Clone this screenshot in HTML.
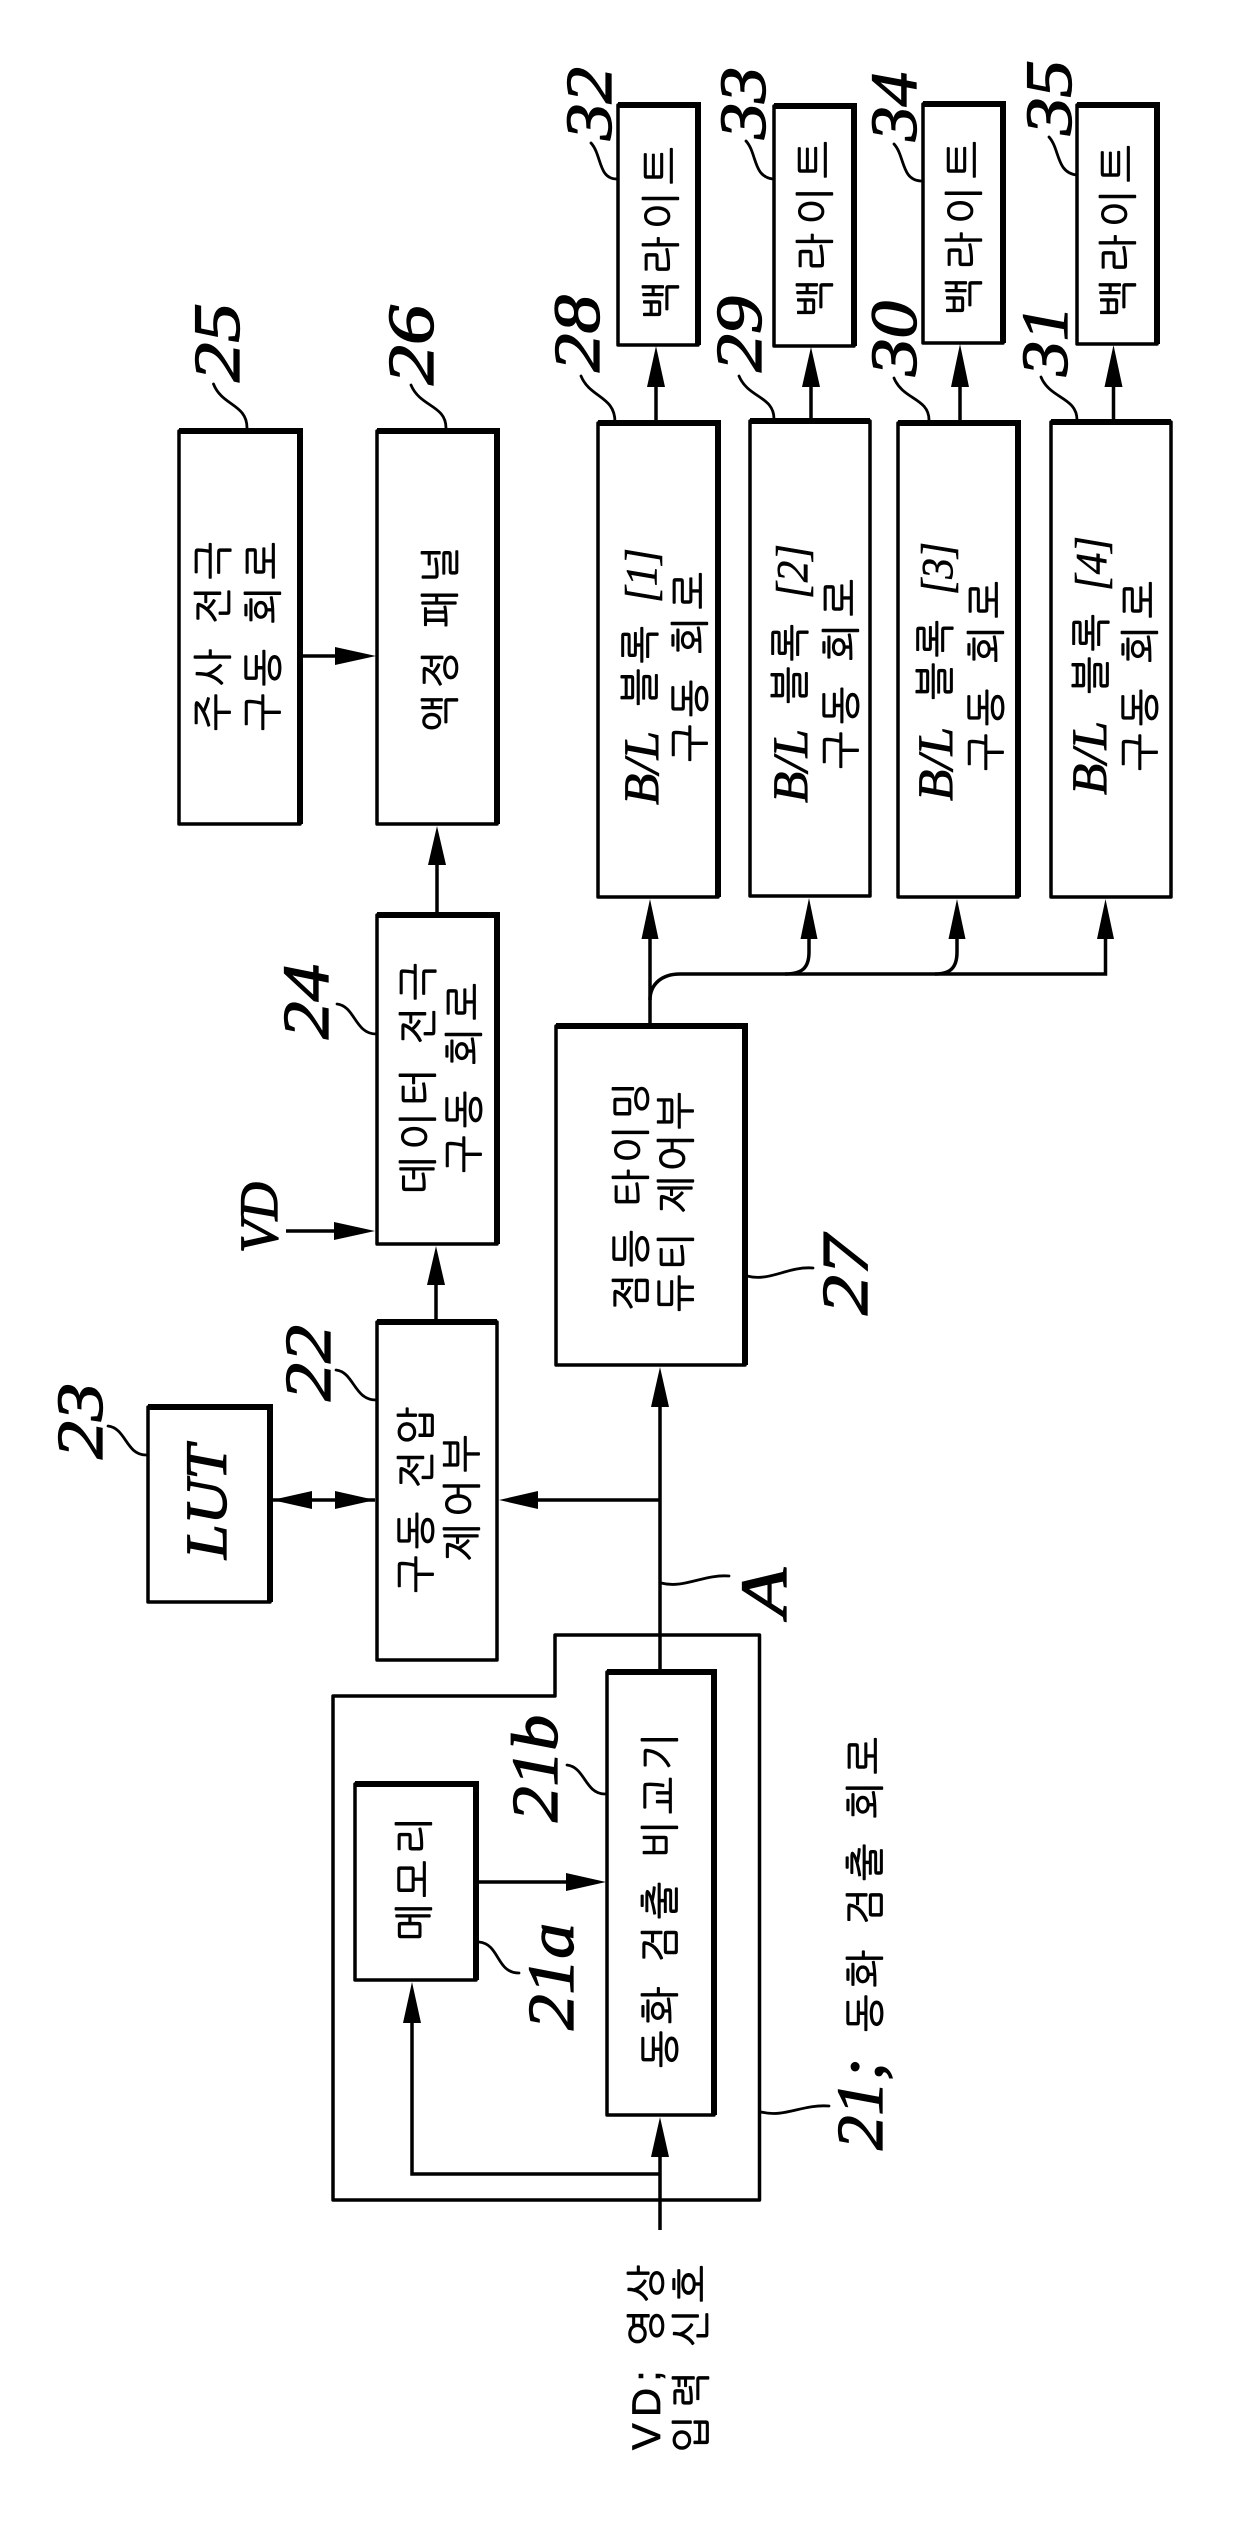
<!DOCTYPE html>
<html lang="ko">
<head>
<meta charset="utf-8">
<title>Diagram</title>
<style>
html,body{margin:0;padding:0;background:#fff}
svg{display:block}
.b{fill:none;stroke:#000;stroke-width:3.5;stroke-linejoin:round}
.h{fill:none;stroke:#000;stroke-width:6}
.l{fill:none;stroke:#000;stroke-width:3.5}
.t{fill:none;stroke:#000;stroke-width:2.8;stroke-linecap:round}
polygon{fill:#000;stroke:none}
text{fill:#000}
.n{font:italic 66px "Liberation Serif",serif;stroke:#000;stroke-width:1.3}
.i{font:italic 50px "Liberation Serif",serif;stroke:#000;stroke-width:.8}
.br{font:italic 44px "Liberation Serif",serif;stroke:#000;stroke-width:.6}
.k{font:40px "Liberation Sans","NanumGothic","Noto Sans CJK KR",sans-serif;stroke:#000;stroke-width:.7}
</style>
</head>
<body>
<svg xmlns="http://www.w3.org/2000/svg" width="1240" height="2522" viewBox="0 0 1240 2522">
<rect width="1240" height="2522" fill="#fff"/>

<!-- outer box 21 -->
<path class="b" d="M333 1696H555V1635H759.500V2200H333Z"/>

<!-- boxes -->
<rect class="b" x="179" y="431" width="121" height="393"/><path class="h" d="M179 431H300V824"/>
<rect class="b" x="377" y="431" width="120" height="393"/><path class="h" d="M377 431H497V824"/>
<rect class="b" x="377" y="915" width="120" height="329"/><path class="h" d="M377 915H497V1244"/>
<rect class="b" x="377" y="1322" width="120" height="338"/>
<path class="h" d="M377 1322H497"/>
<rect class="b" x="148" y="1407" width="122" height="195"/><path class="h" d="M148 1407H270V1602"/>
<rect class="b" x="556" y="1026" width="189" height="339"/><path class="h" d="M556 1026H745V1365"/>
<rect class="b" x="607" y="1672" width="107" height="443"/><path class="h" d="M607 1672H714V2115"/>
<rect class="b" x="355" y="1784" width="121" height="196"/><path class="h" d="M355 1784H476V1980"/>

<rect class="b" x="598" y="423" width="120" height="474"/><path class="h" d="M598 423H718V897"/>
<rect class="b" x="750" y="421" width="120" height="475"/><path class="h" d="M750 421H870"/>
<rect class="b" x="898" y="423" width="120" height="474"/><path class="h" d="M898 423H1018V897"/>
<rect class="b" x="1051" y="422" width="120" height="475"/><path class="h" d="M1051 422H1171"/>

<rect class="b" x="618" y="105" width="80" height="240"/><path class="h" d="M618 105H698V345"/>
<rect class="b" x="774" y="106" width="80" height="240"/><path class="h" d="M774 106H854V346"/>
<rect class="b" x="923" y="104" width="80" height="239"/><path class="h" d="M923 104H1003V343"/>
<rect class="b" x="1077" y="105" width="80" height="239"/><path class="h" d="M1077 105H1157V344"/>

<!-- connectors -->
<path class="l" d="M656 423V380M811 421V380M960 423V380M1113.500 422V380"/>
<polygon points="656,346 647,387 665,387"/>
<polygon points="811,347 802,387 820,387"/>
<polygon points="960,344 951,387 969,387"/>
<polygon points="1113.500,345 1104.500,387 1122.500,387"/>

<path class="l" d="M302 656H340"/><polygon points="376,656 335,647 335,665"/>
<path class="l" d="M437 915V860"/><polygon points="437,826 428,865 446,865"/>
<path class="l" d="M286 1231H340"/><polygon points="375,1231 334,1222 334,1240"/>
<path class="l" d="M436 1322V1280"/><polygon points="436,1246 427,1285 445,1285"/>

<path class="l" d="M272 1500H375"/>
<polygon points="272,1500 312,1491 312,1509"/>
<polygon points="375,1500 335,1491 335,1509"/>
<path class="l" d="M660 1500H530"/><polygon points="499,1500 538,1491 538,1509"/>

<path class="l" d="M660 1672V1400"/><polygon points="660,1367 651,1407 669,1407"/>
<path class="l" d="M660 2230V2150"/><polygon points="660,2117 651,2157 669,2157"/>
<path class="l" d="M660 2174H412V2015"/><polygon points="412,1982 403,2023 421,2023"/>
<path class="l" d="M476 1882H575"/><polygon points="606,1882 566,1873 566,1891"/>

<!-- bus -->
<path class="l" d="M650 1026V932"/><polygon points="650,899 641.500,939 658.500,939"/>
<path class="l" d="M650 1000C650 984 662 974 680 974H1105.500V932"/><polygon points="1105.500,899 1097,939 1114,939"/>
<path class="l" d="M785 974C802 974 809 968 809 952V932"/><polygon points="809,898 800.500,939 817.500,939"/>
<path class="l" d="M935 974C950 974 957 968 957 952V932"/><polygon points="957,899 948.500,939 965.500,939"/>

<!-- leader squiggles -->
<path class="t" d="M213.500 384C222 406 247 404 247 428"/>
<path class="t" d="M411 385C420 407 446 405 446 428"/>
<path class="t" d="M581 376C590 398 615 396 615 422"/>
<path class="t" d="M739 376C748 398 774 396 774 419"/>
<path class="t" d="M894 378C903 400 929 398 929 420"/>
<path class="t" d="M1041 377C1050 399 1077 397 1077 420"/>
<path class="t" d="M591 143C602 155 598 179 617 179"/>
<path class="t" d="M746 141C757 153 753 177 773 179"/>
<path class="t" d="M894 144C905 156 901 180 921 181"/>
<path class="t" d="M1049 137C1060 149 1056 173 1077 175"/>
<path class="t" d="M337 1004C355 1006 355 1034 376 1034"/>
<path class="t" d="M336 1370C354 1372 354 1400 376 1400"/>
<path class="t" d="M108 1426C126 1428 126 1455 146 1455"/>
<path class="t" d="M567 1765C585 1767 585 1794 605 1794"/>
<path class="t" d="M479 1942C500 1944 496 1973 519 1973"/>
<path class="t" d="M761 2112C785 2118 802 2104 829 2106"/>
<path class="t" d="M747 1276C770 1282 788 1266 813 1268"/>
<path class="t" d="M661 1583C684 1589 704 1574 729 1576"/>

<!-- reference numerals -->
<text class="n" transform="translate(239,382) rotate(-90)" textLength="79" lengthAdjust="spacingAndGlyphs">25</text>
<text class="n" transform="translate(433,385) rotate(-90)" textLength="80" lengthAdjust="spacingAndGlyphs">26</text>
<text class="n" transform="translate(599,372) rotate(-90)" textLength="77" lengthAdjust="spacingAndGlyphs">28</text>
<text class="n" transform="translate(761,372) rotate(-90)" textLength="76" lengthAdjust="spacingAndGlyphs">29</text>
<text class="n" transform="translate(916,376) rotate(-90)" textLength="75" lengthAdjust="spacingAndGlyphs">30</text>
<text class="n" transform="translate(1067,376) rotate(-90)" textLength="70" lengthAdjust="spacingAndGlyphs">31</text>
<text class="n" transform="translate(611,140) rotate(-90)" textLength="73" lengthAdjust="spacingAndGlyphs">32</text>
<text class="n" transform="translate(765,139) rotate(-90)" textLength="72" lengthAdjust="spacingAndGlyphs">33</text>
<text class="n" transform="translate(916,141) rotate(-90)" textLength="69" lengthAdjust="spacingAndGlyphs">34</text>
<text class="n" transform="translate(1071,135) rotate(-90)" textLength="75" lengthAdjust="spacingAndGlyphs">35</text>
<text class="n" transform="translate(328,1039) rotate(-90)" textLength="75" lengthAdjust="spacingAndGlyphs">24</text>
<text class="n" transform="translate(330,1401) rotate(-90)" textLength="76" lengthAdjust="spacingAndGlyphs">22</text>
<text class="n" transform="translate(102,1459) rotate(-90)" textLength="76" lengthAdjust="spacingAndGlyphs">23</text>
<text class="n" transform="translate(867,1315) rotate(-90)" textLength="80" lengthAdjust="spacingAndGlyphs">27</text>
<text class="n" transform="translate(786,1617) rotate(-90)" textLength="49" lengthAdjust="spacingAndGlyphs">A</text>
<text class="n" transform="translate(557,1822) rotate(-90)" textLength="107" lengthAdjust="spacingAndGlyphs">21b</text>
<text class="n" transform="translate(573,2030) rotate(-90)" textLength="107" lengthAdjust="spacingAndGlyphs">21a</text>
<text class="n" transform="translate(882,2150) rotate(-90)" textLength="92" lengthAdjust="spacingAndGlyphs">21;</text>
<text class="n" style="font-size:54px" transform="translate(277,1253) rotate(-90)" textLength="71" lengthAdjust="spacingAndGlyphs">VD</text>
<text class="n" style="font-size:58px" transform="translate(226,1559) rotate(-90)" textLength="114" lengthAdjust="spacingAndGlyphs">LUT</text>

<!-- Korean labels -->
<text class="k" transform="translate(227,731) rotate(-90)" textLength="189">주사 전극</text>
<text class="k" transform="translate(277,731) rotate(-90)" textLength="189">구동 회로</text>
<text class="k" transform="translate(454,732) rotate(-90)" textLength="186">액정 패널</text>
<text class="k" transform="translate(432,1194) rotate(-90)" textLength="231">데이터 전극</text>
<text class="k" transform="translate(478,1173) rotate(-90)" textLength="190">구동 회로</text>
<text class="k" transform="translate(430,1593) rotate(-90)" textLength="186">구동 전압</text>
<text class="k" transform="translate(476,1561) rotate(-90)" textLength="126">제어부</text>
<text class="k" transform="translate(645,1311) rotate(-90)" textLength="229">점등 타이밍</text>
<text class="k" transform="translate(690,1312) rotate(-90)" textLength="220">듀티 제어부</text>
<text class="k" transform="translate(428,1941) rotate(-90)" textLength="124">메모리</text>
<text class="k" transform="translate(674,2068) rotate(-90)" textLength="335">동화 검출 비교기</text>
<text class="k" transform="translate(879,2032) rotate(-90)" textLength="295">동화 검출 회로</text>

<text class="k" transform="translate(675,319) rotate(-90)" textLength="172">백라이트</text>
<text class="k" transform="translate(829,317) rotate(-90)" textLength="176">백라이트</text>
<text class="k" transform="translate(978,315) rotate(-90)" textLength="174">백라이트</text>
<text class="k" transform="translate(1132,317) rotate(-90)" textLength="172">백라이트</text>

<text class="i" transform="translate(658,805) rotate(-90)" textLength="74" lengthAdjust="spacingAndGlyphs">B/L</text>
<text class="k" transform="translate(654,706) rotate(-90)" textLength="80">블록</text>
<text class="br" transform="translate(656,603) rotate(-90)" textLength="55" lengthAdjust="spacingAndGlyphs">[1]</text>
<text class="k" transform="translate(704,762) rotate(-90)" textLength="190">구동 회로</text>

<text class="i" transform="translate(807,803) rotate(-90)" textLength="74" lengthAdjust="spacingAndGlyphs">B/L</text>
<text class="k" transform="translate(804,704) rotate(-90)" textLength="80">블록</text>
<text class="br" transform="translate(807,599) rotate(-90)" textLength="55" lengthAdjust="spacingAndGlyphs">[2]</text>
<text class="k" transform="translate(855,769) rotate(-90)" textLength="190">구동 회로</text>

<text class="i" transform="translate(952,801) rotate(-90)" textLength="74" lengthAdjust="spacingAndGlyphs">B/L</text>
<text class="k" transform="translate(949,700) rotate(-90)" textLength="80">블록</text>
<text class="br" transform="translate(952,595) rotate(-90)" textLength="53" lengthAdjust="spacingAndGlyphs">[3]</text>
<text class="k" transform="translate(1000,771) rotate(-90)" textLength="190">구동 회로</text>

<text class="i" transform="translate(1106,795) rotate(-90)" textLength="74" lengthAdjust="spacingAndGlyphs">B/L</text>
<text class="k" transform="translate(1105,694) rotate(-90)" textLength="80">블록</text>
<text class="br" transform="translate(1106,591) rotate(-90)" textLength="55" lengthAdjust="spacingAndGlyphs">[4]</text>
<text class="k" transform="translate(1154,771) rotate(-90)" textLength="190">구동 회로</text>

<text class="k" transform="translate(660,2450) rotate(-90)" textLength="185">VD; 영상</text>
<text class="k" transform="translate(705,2453) rotate(-90)" textLength="188">입력 신호</text>
</svg>
</body>
</html>
